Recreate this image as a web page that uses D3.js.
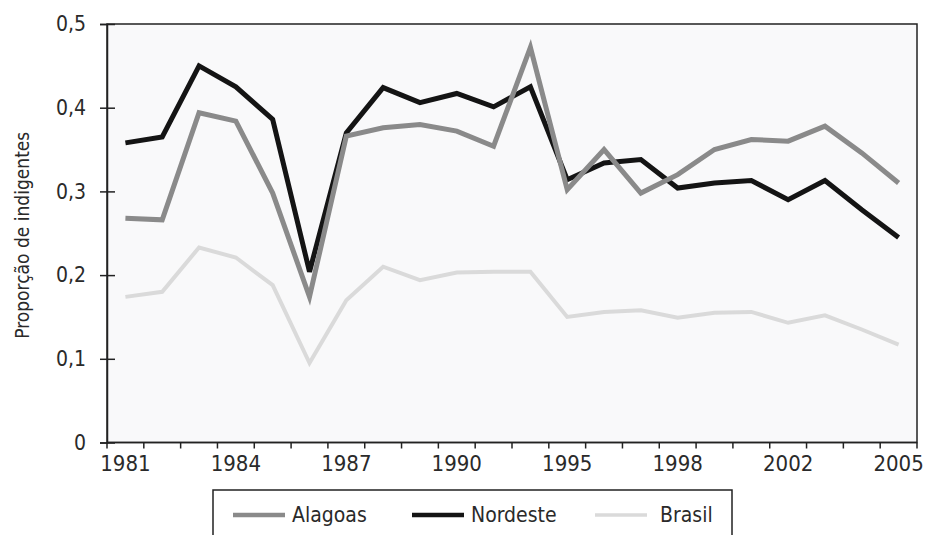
<!DOCTYPE html>
<html>
<head>
<meta charset="utf-8">
<script src="https://cdn.jsdelivr.net/npm/d3@7"></script>
<style>
  html, body { margin: 0; padding: 0; background: #fff; }
  svg { display: block; font-family: "Liberation Sans Narrow", "DejaVu Sans Condensed", "Open Sans", sans-serif; }
</style>
</head>
<body>
<svg id="chart"></svg>
<script>
// Years with survey data (no 1991, 1994, 2000)
const years = ["1981", "1982", "1983", "1984", "1985", "1986", "1987", "1988", "1989", "1990",
  "1992", "1993", "1995", "1996", "1997", "1998", "1999", "2001", "2002", "2003", "2004", "2005"];
const labelYears = ["1981", "1984", "1987", "1990", "1995", "1998", "2002", "2005"];

const alagoas = [0.268, 0.266, 0.394, 0.384, 0.298, 0.174, 0.366, 0.376, 0.380, 0.372, 0.354,
  0.472, 0.302, 0.350, 0.298, 0.320, 0.350, 0.362, 0.360, 0.378, 0.346, 0.310];
const nordeste = [0.358, 0.365, 0.450, 0.425, 0.386, 0.204, 0.370, 0.424, 0.406, 0.417, 0.401,
  0.425, 0.314, 0.334, 0.338, 0.304, 0.310, 0.313, 0.290, 0.313, 0.278, 0.245];
const brasil = [0.174, 0.180, 0.233, 0.221, 0.188, 0.095, 0.170, 0.210, 0.194, 0.203, 0.204,
  0.204, 0.150, 0.156, 0.158, 0.149, 0.155, 0.156, 0.143, 0.152, 0.135, 0.117];

const yTicks = [0, 0.1, 0.2, 0.3, 0.4, 0.5];

const series = [
  { name: "Alagoas", values: alagoas, color: "#8a8a8a", width: 5 },
  { name: "Nordeste", values: nordeste, color: "#141414", width: 5 },
  { name: "Brasil", values: brasil, color: "#dadada", width: 4 },
];

const W = 925, H = 535;
const plot = { left: 107, right: 917, top: 24, bottom: 442.5 };

const svg = d3.select("#chart").attr("width", W).attr("height", H);

const x = d3.scaleBand().domain(years).range([plot.left, plot.right]).padding(0);
const y = d3.scaleLinear().domain([0, 0.5]).range([plot.bottom, plot.top]);
const fmt = (d) => d3.format(".1f")(d).replace(".", ",");

// Plot background + frame
svg.append("rect")
  .attr("x", plot.left).attr("y", plot.top)
  .attr("width", plot.right - plot.left).attr("height", plot.bottom - plot.top)
  .attr("fill", "#f9f9fa")
  .attr("stroke", "#222").attr("stroke-width", 1.5);

// Lines
const line = d3.line()
  .x((d, i) => x(years[i]) + x.bandwidth() / 2)
  .y((d) => y(d));

for (const s of series.slice().reverse()) {
  svg.append("path")
    .datum(s.values)
    .attr("d", line)
    .attr("fill", "none")
    .attr("stroke", s.color)
    .attr("stroke-width", s.width)
    .attr("stroke-linejoin", "miter");
}

// Y axis
const yAxis = svg.append("g")
  .attr("transform", `translate(${plot.left},0)`)
  .call(d3.axisLeft(y).tickValues(yTicks).tickSize(7).tickPadding(14)
    .tickFormat((d) => (d === 0 ? "0" : fmt(d))));
yAxis.select(".domain").attr("stroke", "#222").attr("stroke-width", 1.5);
yAxis.selectAll(".tick line").attr("x1", -7).attr("x2", 8).attr("stroke", "#222").attr("stroke-width", 1.5);
yAxis.selectAll(".tick text").attr("fill", "#2a2a2a").attr("font-size", 21)
  .attr("font-family", "Liberation Sans Narrow, DejaVu Sans Condensed, Open Sans, sans-serif");

// X axis: ticks at band edges, labels at band centres
const xAxis = svg.append("g");
xAxis.append("line")
  .attr("x1", plot.left).attr("x2", plot.right)
  .attr("y1", plot.bottom).attr("y2", plot.bottom)
  .attr("stroke", "#222").attr("stroke-width", 1.5);
const edges = years.map((d) => x(d)).concat([plot.right]);
xAxis.selectAll("line.tick")
  .data(edges)
  .join("line")
  .attr("class", "tick")
  .attr("x1", (d) => d).attr("x2", (d) => d)
  .attr("y1", plot.bottom).attr("y2", plot.bottom + 6)
  .attr("stroke", "#222").attr("stroke-width", 1.5);
xAxis.selectAll("text")
  .data(labelYears)
  .join("text")
  .attr("x", (d) => x(d) + x.bandwidth() / 2)
  .attr("y", plot.bottom + 28)
  .attr("text-anchor", "middle")
  .attr("fill", "#2a2a2a")
  .attr("font-size", 22)
  .text((d) => d);

// Y title
svg.append("text")
  .attr("transform", `translate(29,${(plot.top + plot.bottom) / 2 + 2}) rotate(-90)`)
  .attr("text-anchor", "middle")
  .attr("fill", "#2a2a2a")
  .attr("font-size", 19)
  .text("Proporção de indigentes");

// Legend
const legend = svg.append("g");
legend.append("rect")
  .attr("x", 213).attr("y", 490).attr("width", 519).attr("height", 60)
  .attr("fill", "#fff").attr("stroke", "#222").attr("stroke-width", 1.5);
const legendItems = [
  { s: series[0], x: 233 },
  { s: series[1], x: 412 },
  { s: series[2], x: 595 },
];
for (const it of legendItems) {
  legend.append("line")
    .attr("x1", it.x).attr("x2", it.x + 52)
    .attr("y1", 515).attr("y2", 515)
    .attr("stroke", it.s.color).attr("stroke-width", it.s.width - 0.5);
  legend.append("text")
    .attr("x", it.s.name === "Brasil" ? it.x + 65 : it.x + 59)
    .attr("y", 522)
    .attr("fill", "#2a2a2a")
    .attr("font-size", 21)
    .text(it.s.name);
}
</script>
</body>
</html>
